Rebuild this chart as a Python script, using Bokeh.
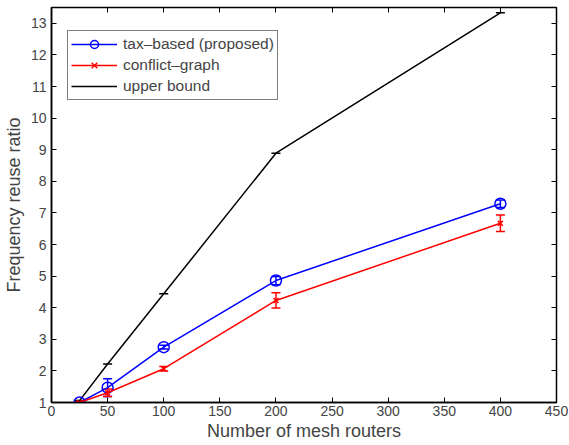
from bokeh.plotting import figure
from bokeh.models import ColumnDataSource, Whisker, TeeHead, LinearAxis, FixedTicker, Range1d, Legend, LegendItem
from bokeh.embed import file_html
from bokeh.resources import INLINE

routers = [25, 50, 100, 200, 400]
tax = [1.0, 1.47, 2.75, 4.86, 7.29]
tax_err = [0.03, 0.28, 0.06, 0.13, 0.12]
conf = [1.0, 1.31, 2.07, 4.23, 6.67]
conf_err = [0.03, 0.12, 0.07, 0.24, 0.26]
upper = [1.06, 2.22, 4.44, 8.89, 13.33]

x_ticks = [0, 50, 100, 150, 200, 250, 300, 350, 400, 450]
y_ticks = list(range(1, 14))

FONT = "Liberation Sans"

p = figure(width=569, height=445, output_backend="svg", toolbar_location=None,
           x_range=Range1d(0, 450), y_range=Range1d(1, 13.5),
           min_border_left=45, min_border_right=13, min_border_top=7, min_border_bottom=43)
p.grid.visible = False
p.outline_line_color = "black"
p.outline_line_width = 1.5
p.background_fill_color = "white"

for ax in (p.xaxis[0], p.yaxis[0]):
    ax.major_tick_in = 5
    ax.major_tick_out = 0
    ax.minor_tick_line_color = None
    ax.axis_line_width = 1.5
    ax.major_label_text_font = FONT
    ax.major_label_text_font_size = "14px"
    ax.axis_label_text_font = FONT
    ax.axis_label_text_font_size = "18px"
    ax.axis_label_text_font_style = "normal"
p.xaxis[0].ticker = FixedTicker(ticks=x_ticks)
p.yaxis[0].ticker = FixedTicker(ticks=y_ticks)
p.xaxis[0].axis_label = "Number of mesh routers"
p.yaxis[0].axis_label = "Frequency reuse ratio"
p.xaxis[0].axis_label_standoff = 2
p.yaxis[0].axis_label_standoff = 4
p.xaxis[0].major_label_standoff = 3
p.yaxis[0].major_label_standoff = 5

for loc, tk in (("above", x_ticks), ("right", y_ticks)):
    a = LinearAxis(ticker=FixedTicker(ticks=tk), major_tick_in=5, major_tick_out=0,
                   minor_tick_line_color=None, major_label_overrides={t: "" for t in tk},
                   major_label_standoff=0, axis_label_standoff=0, axis_line_color=None)
    p.add_layout(a, loc)

src_t = ColumnDataSource(dict(x=routers, y=tax, lo=[a - b for a, b in zip(tax, tax_err)],
                              hi=[a + b for a, b in zip(tax, tax_err)]))
src_c = ColumnDataSource(dict(x=routers, y=conf, lo=[a - b for a, b in zip(conf, conf_err)],
                              hi=[a + b for a, b in zip(conf, conf_err)]))
src_u = ColumnDataSource(dict(x=routers, y=upper))

lu = p.line("x", "y", source=src_u, color="black", line_width=1.5)
du = p.scatter("x", "y", source=src_u, marker="dash", size=9, color="black", line_width=1.5)

lt = p.line("x", "y", source=src_t, color="blue", line_width=1.5)
st = p.scatter("x", "y", source=src_t, marker="circle", size=11, fill_color=None,
               line_color="blue", line_width=1.5)
p.add_layout(Whisker(source=src_t, base="x", lower="lo", upper="hi", line_color="blue", line_width=1.5,
                     upper_head=TeeHead(size=9, line_color="blue", line_width=1.5),
                     lower_head=TeeHead(size=9, line_color="blue", line_width=1.5)))

lc = p.line("x", "y", source=src_c, color="red", line_width=1.5)
sc = p.scatter("x", "y", source=src_c, marker="x", size=7, line_color="red", line_width=1.5)
p.add_layout(Whisker(source=src_c, base="x", lower="lo", upper="hi", line_color="red", line_width=1.5,
                     upper_head=TeeHead(size=9, line_color="red", line_width=1.5),
                     lower_head=TeeHead(size=9, line_color="red", line_width=1.5)))

legend = Legend(items=[LegendItem(label="tax\u2013based (proposed)", renderers=[lt, st]),
                       LegendItem(label="conflict\u2013graph", renderers=[lc, sc]),
                       LegendItem(label="upper bound", renderers=[lu])],
                location=(16, 302))
legend.border_line_color = "black"
legend.border_line_width = 1.5
legend.label_text_font = FONT
legend.label_text_font_size = "15.5px"
legend.glyph_width = 46
legend.spacing = 1
legend.padding = 3
legend.margin = 0
legend.label_standoff = 6
legend.label_height = 20
legend.glyph_height = 20
p.add_layout(legend)

open("out.html", "w").write(file_html(p, INLINE))
